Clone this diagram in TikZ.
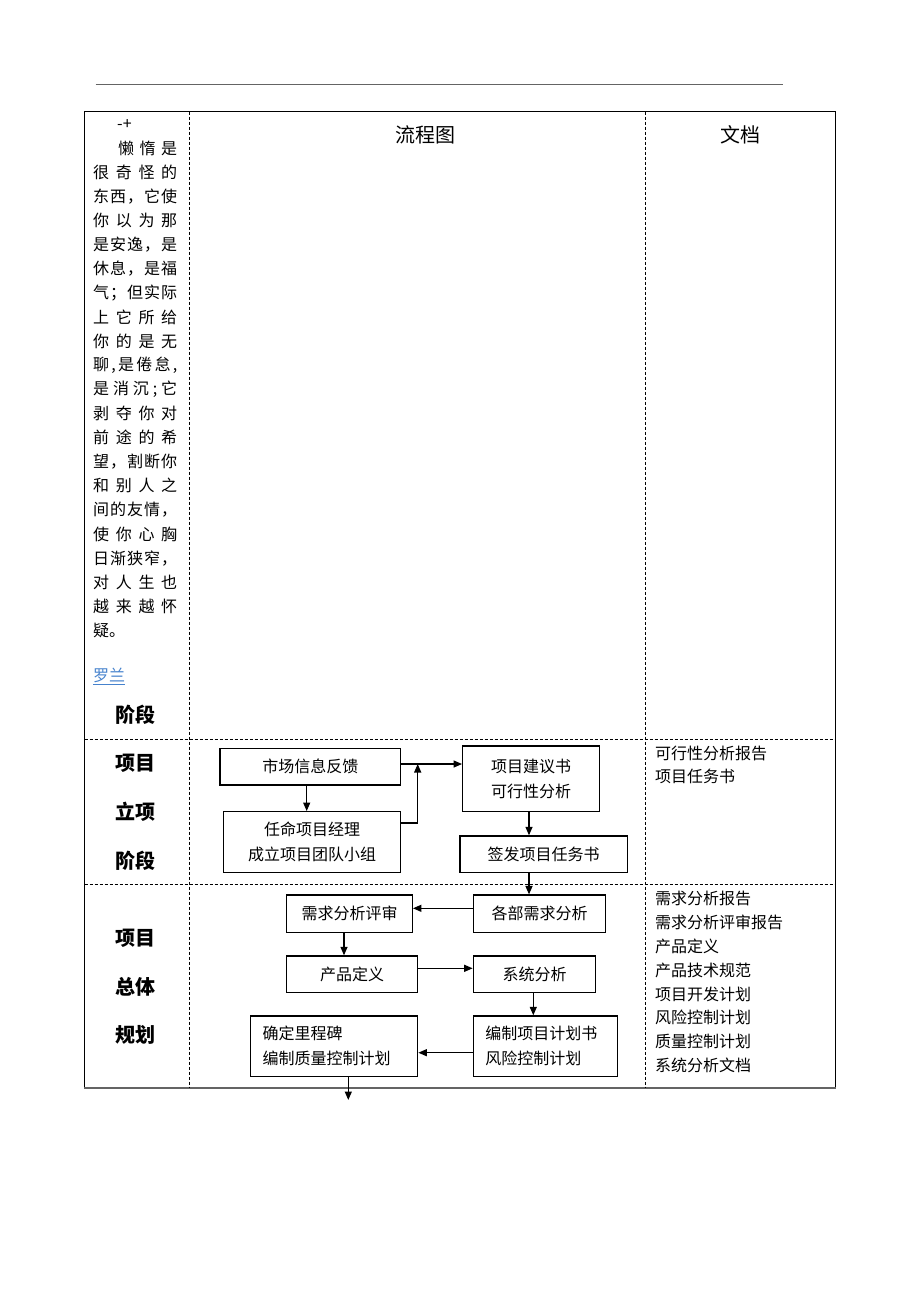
\documentclass[tikz,border=0pt]{standalone}
\usepackage{fontspec}
\setmainfont{Noto Sans CJK SC}
\usetikzlibrary{arrows.meta}
\definecolor{linkblue}{RGB}{70,130,205}
\definecolor{rulegray}{RGB}{100,100,100}
\newcommand\jg{\hfill}
\newcommand\jline[2]{\makebox[#1][s]{#2}}
\begin{document}
\begin{tikzpicture}[x=1pt,y=-1pt,
  fbox/.style={draw, line width=1.3pt, inner sep=0pt, font=\fontsize{16}{25}\selectfont, align=center},
  arr/.style={line width=1.3pt, -{Triangle[length=8.5pt,width=7pt]}},
  dashcol/.style={line width=0.8pt, dash pattern=on 3pt off 2pt},
  body/.style={font=\fontsize{16}{24}\selectfont, inner sep=0pt, anchor=west},
  head/.style={font=\fontsize{20}{24}\selectfont, inner sep=0pt},
  stage/.style={font=\fontsize{20}{24}\selectfont\bfseries, inner sep=0pt},
]
\useasboundingbox[fill=white] (0,0) rectangle (920,1302);

% top rule
\draw[rulegray, line width=0.9pt] (95.7,84) -- (783,84);

% table
\draw[line width=0.9pt] (84.5,1088) -- (84.5,111.5) -- (835,111.5) -- (835,1088);
\draw[rulegray, line width=1.3pt] (84,1088) -- (835.5,1088);
\draw[dashcol] (189,111.5) -- (189,1088);
\draw[dashcol] (645.5,111.5) -- (645.5,1088);
\draw[dashcol] (84.5,739.5) -- (835,739.5);
\draw[dashcol] (84.5,884.5) -- (835,884.5);

% headers
\node[head] (h1) at (425.8,135) {流程图};
\node[head] (h2) at (740,135) {文档};

% left column text
\node[body] (l0) at (117,124.5) {-+};
\node[body] (l1) at (118,148.5) {\jline{59pt}{懒\jg 惰\jg 是}};
\node[body] (l2) at (93,172.6) {\jline{84pt}{很\jg 奇\jg 怪\jg 的}};
\node[body] (l3) at (93,196.7) {\jline{84pt}{东\jg 西\jg ，\jg 它\jg 使}};
\node[body] (l4) at (93,220.8) {\jline{84pt}{你\jg 以\jg 为\jg 那}};
\node[body] (l5) at (93,244.9) {\jline{84pt}{是\jg 安\jg 逸\jg ，\jg 是}};
\node[body] (l6) at (93,269) {\jline{84pt}{休\jg 息\jg ，\jg 是\jg 福}};
\node[body] (l7) at (93,293.1) {\jline{84pt}{气\jg ；\jg 但\jg 实\jg 际}};
\node[body] (l8) at (93,317.2) {\jline{84pt}{上\jg 它\jg 所\jg 给}};
\node[body] (l9) at (93,341.3) {\jline{84pt}{你\jg 的\jg 是\jg 无}};
\node[body] (l10) at (93,365.4) {\jline{84pt}{聊\jg ,\jg 是\jg 倦\jg 怠\jg ,}};
\node[body] (l11) at (93,389.5) {\jline{84pt}{是\jg 消\jg 沉\jg ;\jg 它}};
\node[body] (l12) at (93,413.6) {\jline{84pt}{剥\jg 夺\jg 你\jg 对}};
\node[body] (l13) at (93,437.7) {\jline{84pt}{前\jg 途\jg 的\jg 希}};
\node[body] (l14) at (93,461.8) {\jline{84pt}{望\jg ，\jg 割\jg 断\jg 你}};
\node[body] (l15) at (93,485.9) {\jline{84pt}{和\jg 别\jg 人\jg 之}};
\node[body] (l16) at (93,510) {\jline{84pt}{间\jg 的\jg 友\jg 情\jg ，}};
\node[body] (l17) at (93,534.1) {\jline{84pt}{使\jg 你\jg 心\jg 胸}};
\node[body] (l18) at (93,558.2) {\jline{84pt}{日\jg 渐\jg 狭\jg 窄\jg ，}};
\node[body] (l19) at (93,582.3) {\jline{84pt}{对\jg 人\jg 生\jg 也}};
\node[body] (l20) at (93,606.4) {\jline{84pt}{越\jg 来\jg 越\jg 怀}};
\node[body] (l21) at (93,630.5) {疑。};
\node[body, text=linkblue] (rl) at (93,675) {罗兰};
\draw[linkblue, line width=0.8pt] ([yshift=-2pt]rl.south west) -- ([yshift=-2pt]rl.south east);

% stage labels
\node[stage] (s0) at (135.7,715) {阶段};
\node[stage] (s1) at (135.7,763.3) {项目};
\node[stage] (s2) at (135.7,811.7) {立项};
\node[stage] (s3) at (135.7,860.7) {阶段};
\node[stage] (s4) at (135.7,938.3) {项目};
\node[stage] (s5) at (135.7,986.7) {总体};
\node[stage] (s6) at (135.7,1035) {规划};

% flowchart row 1
\node[fbox, minimum width=180.7pt, minimum height=36.7pt] (mkt) at (310.3,766.7) {市场信息反馈};
\node[fbox, minimum width=177.4pt, minimum height=61pt] (appoint) at (312,842.2) {任命项目经理\\成立项目团队小组};
\node[fbox, minimum width=136.6pt, minimum height=65.7pt] (prop) at (531,778.9) {项目建议书\\可行性分析};
\node[fbox, minimum width=167.3pt, minimum height=36.7pt] (issue) at (543.7,854.3) {签发项目任务书};

% flowchart row 2
\node[fbox, minimum width=125.6pt, minimum height=37.3pt] (review) at (349.5,913.7) {需求分析评审};
\node[fbox, minimum width=132.4pt, minimum height=37.3pt] (dept) at (539.5,913.7) {各部需求分析};
\node[fbox, minimum width=130.6pt, minimum height=36.7pt] (prod) at (352,974.3) {产品定义};
\node[fbox, minimum width=122.4pt, minimum height=36.7pt] (sys) at (534.5,974.3) {系统分析};
\node[fbox, minimum width=167pt, minimum height=60.7pt, align=left, text width=143pt] (mile) at (334.2,1046.3) {确定里程碑\\编制质量控制计划};
\node[fbox, minimum width=144.4pt, minimum height=60.7pt, align=left, text width=120.4pt] (plan) at (545.5,1046.3) {编制项目计划书\\风险控制计划};

% connectors
\coordinate (j) at (417.7,764);
\coordinate (out) at (348.3,1100);
\draw[arr] (mkt.east |- j) -- (prop.west |- j);
\draw[arr] ([yshift=19.2pt]appoint.east) -| (j);
\draw[arr] ([xshift=-3.6pt]mkt.south) -- ([xshift=-3.6pt]mkt.south |- appoint.north);
\draw[arr] ([xshift=-2pt]prop.south) -- ([xshift=-2pt]prop.south |- issue.north);
\draw[arr] ([xshift=-14.7pt]issue.south) -- ([xshift=-14.7pt]issue.south |- dept.north);
\draw[arr] ([yshift=5.4pt]dept.west) -- ([yshift=5.4pt]dept.west -| review.east);
\draw[arr] ([xshift=-5.5pt]review.south) -- ([xshift=-5.5pt]review.south |- prod.north);
\draw[arr] ([yshift=6pt]prod.east) -- ([yshift=6pt]prod.east -| sys.west);
\draw[arr] ([xshift=-1.2pt]sys.south) -- ([xshift=-1.2pt]sys.south |- plan.north);
\draw[arr] ([yshift=-6.4pt]plan.west) -- ([yshift=-6.4pt]plan.west -| mile.east);
\draw[arr] (mile.south -| out) -- (out);

% documents column
\node[body] (d1) at (655,753.3) {可行性分析报告};
\node[body] (d2) at (655,776.5) {项目任务书};
\node[body] (d3) at (655,898) {需求分析报告};
\node[body] (d4) at (655,922) {需求分析评审报告};
\node[body] (d5) at (655,946) {产品定义};
\node[body] (d6) at (655,970) {产品技术规范};
\node[body] (d7) at (655,994) {项目开发计划};
\node[body] (d8) at (655,1017.5) {风险控制计划};
\node[body] (d9) at (655,1041.5) {质量控制计划};
\node[body] (d10) at (655,1065.5) {系统分析文档};
\end{tikzpicture}
\end{document}
